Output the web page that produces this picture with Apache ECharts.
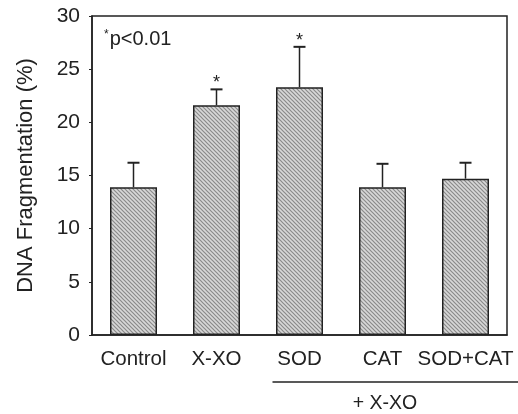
<!DOCTYPE html>
<html><head><meta charset="utf-8">
<script src="https://cdn.jsdelivr.net/npm/echarts@6/dist/echarts.min.js"></script>
<style>html,body{margin:0;padding:0;background:#fff}#c{width:518px;height:414px}</style>
</head><body><div id="c"></div>
<script>
const categories = ['Control', 'X-XO', 'SOD', 'CAT', 'SOD+CAT'];
const means = [13.9, 21.6, 23.3, 13.9, 14.7];
const errors = [2.3, 1.5, 3.8, 2.2, 1.5];
const significant = [false, true, true, false, false];
const yTicks = [0, 5, 10, 15, 20, 25, 30];

// hatch pattern
const pc = document.createElement('canvas');
pc.width = 4; pc.height = 4;
const pctx = pc.getContext('2d');
pctx.fillStyle = '#d8d8d8';
pctx.fillRect(0, 0, 4, 4);
pctx.strokeStyle = '#8a8a8a';
pctx.lineWidth = 1.2;
pctx.beginPath();
pctx.moveTo(-1, -1); pctx.lineTo(5, 5);
pctx.moveTo(-1, 3); pctx.lineTo(1, 5);
pctx.moveTo(3, -1); pctx.lineTo(5, 1);
pctx.stroke();

const FONT = 'Liberation Sans, Arial, sans-serif';
const chart = echarts.init(document.getElementById('c'), null, {renderer: 'canvas'});

const option = {
  animation: false,
  backgroundColor: '#fff',
  grid: {left: 92, right: 11, top: 16, bottom: 79, show: true, borderColor: '#222', borderWidth: 1.5, backgroundColor: 'transparent'},
  title: {
    text: '{s|*}p<0.01', left: 99, top: 24,
    textStyle: {fontFamily: FONT, fontSize: 20, fontWeight: 'normal', color: '#222',
      rich: {s: {fontSize: 12, verticalAlign: 'top', color: '#222', fontFamily: FONT, padding: [0, 1, 8, 0]}}}
  },
  xAxis: {
    type: 'category', data: categories,
    axisLine: {show: true, lineStyle: {color: '#222', width: 1.5}},
    axisTick: {show: false},
    axisLabel: {fontFamily: FONT, fontSize: 20.5, color: '#222', margin: 14, interval: 0}
  },
  yAxis: {
    type: 'value', min: 0, max: 30, interval: 5,
    name: 'DNA Fragmentation (%)', nameLocation: 'middle', nameGap: 55,
    nameTextStyle: {fontFamily: FONT, fontSize: 22, color: '#222'},
    axisLine: {show: true, lineStyle: {color: '#222', width: 1.5}},
    axisTick: {show: true, length: 3, lineStyle: {color: '#222'}},
    splitLine: {show: false},
    axisLabel: {fontFamily: FONT, fontSize: 21, color: '#222', margin: 12,
      formatter: v => yTicks.includes(v) ? String(v) : ''}
  },
  series: [
    {
      type: 'bar', data: means, barWidth: 47,
      itemStyle: {color: {image: pc, repeat: 'repeat'}, borderColor: '#222', borderWidth: 1.5},
      z: 2
    },
    {
      type: 'custom',
      data: means.map((m, i) => [i, m, m + errors[i], significant[i] ? 1 : 0]),
      renderItem: function (params, api) {
        const i = api.value(0);
        const base = api.coord([i, api.value(1)]);
        const top = api.coord([i, api.value(2)]);
        const cw = 12;
        const children = [
          {type: 'line', shape: {x1: base[0], y1: base[1], x2: top[0], y2: top[1]}, style: {stroke: '#222', lineWidth: 1.5}},
          {type: 'line', shape: {x1: top[0] - cw / 2, y1: top[1], x2: top[0] + cw / 2, y2: top[1]}, style: {stroke: '#222', lineWidth: 2}}
        ];
        if (api.value(3)) {
          children.push({type: 'text', style: {text: '*', x: top[0], y: top[1] - 6, align: 'center', verticalAlign: 'middle',
            font: '18px ' + FONT, fill: '#222'}});
        }
        return {type: 'group', children: children};
      },
      z: 3
    }
  ]
};
chart.setOption(option);

// bracket under the "+ X-XO" groups, placed from the axis
const sodX = chart.convertToPixel({xAxisIndex: 0}, 'SOD');
const lineY = 382;
chart.setOption({
  graphic: [
    {type: 'line', shape: {x1: sodX - 27, y1: lineY, x2: 518, y2: lineY}, style: {stroke: '#222', lineWidth: 1.5}},
    {type: 'text', x: 385, y: 404, style: {text: '+ X-XO', font: '19.5px ' + FONT, fill: '#222', align: 'center', verticalAlign: 'middle'}}
  ]
});
</script></body></html>
